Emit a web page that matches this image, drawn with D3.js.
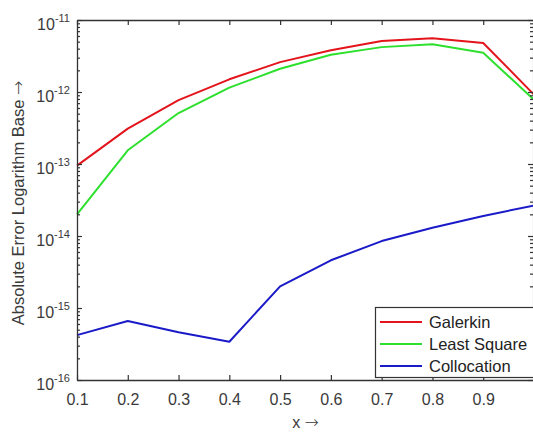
<!DOCTYPE html>
<html><head><meta charset="utf-8">
<script src="https://cdn.jsdelivr.net/npm/d3@7"></script>
<style>
html,body{margin:0;padding:0;background:#fff;}
svg{display:block;font-family:"Liberation Sans",Arial,sans-serif;}
</style></head>
<body><svg id="c" width="533" height="432"></svg>
<script>
const xs = [0.1,0.2,0.3,0.4,0.5,0.6,0.7,0.8,0.9,1.0];
const galerkin = [9.5e-14,3.1e-13,7.7e-13,1.5e-12,2.6e-12,3.8e-12,5.1e-12,5.6e-12,4.8e-12,9.2e-13];
const leastSquare = [2.0e-14,1.55e-13,5.1e-13,1.15e-12,2.1e-12,3.3e-12,4.2e-12,4.6e-12,3.5e-12,7.8e-13];
const collocation = [4.2e-16,6.6e-16,4.6e-16,3.4e-16,2.0e-15,4.6e-15,8.5e-15,1.3e-14,1.9e-14,2.65e-14];
const seriesNames = ["Galerkin","Least Square","Collocation"];
const seriesColors = ["#e3141c","#2ee02e","#1a1ac8"];
const xTicks = [0.1,0.2,0.3,0.4,0.5,0.6,0.7,0.8,0.9];
const yExps = [-16,-15,-14,-13,-12,-11];
const xLabel = "x ";
const yLabel = "Absolute Error Logarithm Base ";
const arrow = "\u2192";

const svg = d3.select("#c");
const L=77, R=534, T=20, B=380;
const x = d3.scaleLinear().domain([0.1,1.0]).range([L,R]);
const y = d3.scaleLog().domain([1e-16,1e-11]).range([B,T]);
const axisColor="#333";
const textColor="#3a3a3a";

const majorY = yExps.map(e=>Math.pow(10,e));
const minorY = [];
for(let e=-16;e<-11;e++){for(let m=2;m<=9;m++)minorY.push(m*Math.pow(10,e));}

// lines
const line = d3.line().x((d,i)=>x(xs[i])).y(d=>y(d));
[galerkin,leastSquare,collocation].forEach((s,k)=>{
  svg.append("path").datum(s).attr("d",line).attr("fill","none")
    .attr("stroke",seriesColors[k]).attr("stroke-width",2).attr("stroke-linejoin","round");
});

function styleAxis(g){
  g.selectAll("path.domain").attr("stroke",axisColor).attr("stroke-width",1.3);
  g.selectAll(".tick line").attr("stroke",axisColor).attr("stroke-width",1.2);
}
// bottom axis
const gx = svg.append("g").attr("transform",`translate(0,${B})`)
  .call(d3.axisBottom(x).tickValues(xTicks).tickSizeInner(-5).tickSizeOuter(0).tickPadding(0).tickFormat(d3.format(".1f")));
styleAxis(gx);
gx.selectAll(".tick text").attr("y",25).attr("dy",null).attr("font-size",16).attr("fill",textColor);
// top axis
const gt = svg.append("g").attr("transform",`translate(0,${T})`)
  .call(d3.axisTop(x).tickValues(xTicks).tickSizeInner(-5).tickSizeOuter(0).tickFormat(""));
styleAxis(gt);
// left axis
const gy = svg.append("g").attr("transform",`translate(${L},0)`)
  .call(d3.axisLeft(y).tickValues(majorY).tickSizeInner(-5).tickSizeOuter(0).tickFormat(""));
styleAxis(gy);
const gym = svg.append("g").attr("transform",`translate(${L},0)`)
  .call(d3.axisLeft(y).tickValues(minorY).tickSizeInner(-3).tickSizeOuter(0).tickFormat(""));
styleAxis(gym); gym.select("path.domain").remove();
// right axis
const gr = svg.append("g").attr("transform",`translate(${R-1},0)`)
  .call(d3.axisRight(y).tickValues(majorY).tickSizeInner(-5).tickSizeOuter(0).tickFormat(""));
styleAxis(gr); gr.select("path.domain").attr("stroke","#888").attr("stroke-dasharray","1,1");
const grm = svg.append("g").attr("transform",`translate(${R-1},0)`)
  .call(d3.axisRight(y).tickValues(minorY).tickSizeInner(-3).tickSizeOuter(0).tickFormat(""));
styleAxis(grm); grm.select("path.domain").remove();

// y tick labels
yExps.forEach(e=>{
  const yy = y(Math.pow(10,e));
  const t = svg.append("text").attr("x",70).attr("y",yy+10).attr("text-anchor","end").attr("fill",textColor);
  t.append("tspan").attr("font-size",16).text("10");
  t.append("tspan").attr("font-size",11).attr("dy",-8).text(String(e));
});

// axis labels
const xl = svg.append("text").attr("x",(L+R)/2).attr("y",428).attr("text-anchor","middle")
  .attr("font-size",16).attr("fill",textColor);
xl.append("tspan").text(xLabel);
xl.append("tspan").attr("font-family","DejaVu Sans").attr("font-weight",200).attr("font-size",17).text(arrow);
const yl = svg.append("text").attr("transform",`translate(24,203) rotate(-90)`)
  .attr("text-anchor","middle").attr("font-size",16.5).attr("fill",textColor);
yl.append("tspan").text(yLabel);
yl.append("tspan").attr("font-family","DejaVu Sans").attr("font-weight",200).attr("font-size",17).text(arrow);

// legend
const lg = svg.append("g");
lg.append("rect").attr("x",375.5).attr("y",307.5).attr("width",170).attr("height",70)
  .attr("fill","#fff").attr("stroke",axisColor).attr("stroke-width",1.2);
seriesNames.forEach((n,i)=>{
  const yy = 322 + i*22;
  lg.append("line").attr("x1",380).attr("x2",422).attr("y1",yy).attr("y2",yy)
    .attr("stroke",seriesColors[i]).attr("stroke-width",2);
  lg.append("text").attr("x",429).attr("y",yy+6).attr("font-size",16.5).attr("fill","#222").text(n);
});
</script></body></html>
